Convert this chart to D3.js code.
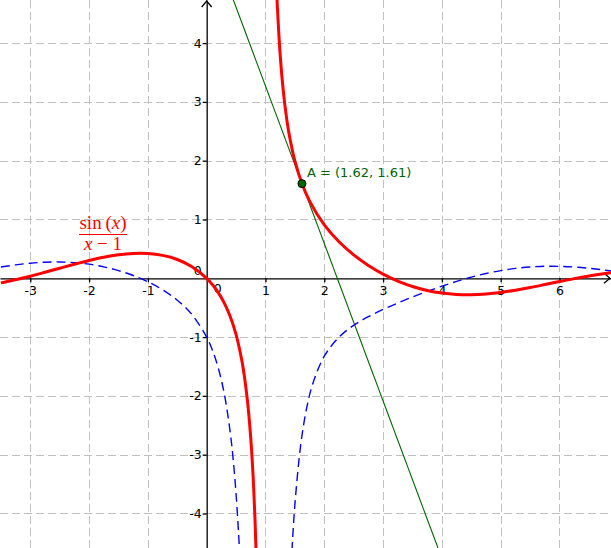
<!DOCTYPE html>
<html>
<head>
<meta charset="utf-8">
<script src="https://cdn.jsdelivr.net/npm/d3@7"></script>
<style>
  html, body { margin: 0; padding: 0; background: #fff; }
  svg { display: block; }
  .tick text { font-family: "DejaVu Sans", sans-serif; font-size: 12.5px; fill: #000; }
</style>
</head>
<body>
<div id="chart"></div>
<script>
  // view window, in graph units
  var xDomain = [-3.515, 6.876];
  var yDomain = [4.733, -4.587];
  var xTicks = [-3, -2, -1, 1, 2, 3, 4, 5, 6];
  var yTicks = [-4, -3, -2, -1, 1, 2, 3, 4];

  // f(x) = sin(x)/(x-1), left branch (x < 1)
  var fLeftX = [-3.5, -3.25, -3, -2.75, -2.5, -2.25, -2, -1.75, -1.5, -1.25, -1, -0.75, -0.5, -0.25, 0,
    0.1, 0.2, 0.3, 0.4, 0.5, 0.6, 0.65, 0.7, 0.72, 0.75, 0.78, 0.8, 0.82, 0.84];
  var fLeftY = [-0.078, -0.025, 0.035, 0.102, 0.171, 0.239, 0.303, 0.358, 0.399, 0.422, 0.421, 0.390, 0.320, 0.198, 0,
    -0.111, -0.248, -0.422, -0.649, -0.959, -1.412, -1.729, -2.147, -2.355, -2.727, -3.197, -3.587, -4.062, -4.654];

  // f(x), right branch (x > 1)
  var fRightX = [1.16, 1.18, 1.2, 1.25, 1.3, 1.35, 1.4, 1.5, 1.62, 1.75, 2, 2.25, 2.5, 2.75, 3, 3.25, 3.5,
    3.75, 4, 4.25, 4.5, 4.75, 5, 5.25, 5.5, 5.75, 6, 6.25, 6.5, 6.75, 7];
  var fRightY = [5.730, 5.137, 4.660, 3.796, 3.212, 2.788, 2.464, 1.995, 1.611, 1.312, 0.909, 0.622, 0.399, 0.218, 0.071, -0.048, -0.140,
    -0.208, -0.252, -0.275, -0.279, -0.266, -0.240, -0.202, -0.157, -0.107, -0.056, -0.006, 0.039, 0.078, 0.110];

  // f'(x), dashed, left branch
  var dLeftX = [-3.5, -3.25, -3, -2.75, -2.5, -2.25, -2, -1.75, -1.5, -1.25, -1, -0.75, -0.5, -0.25, 0,
    0.1, 0.2, 0.3, 0.4, 0.45, 0.5, 0.55, 0.56, 0.58];
  var dLeftY = [0.191, 0.228, 0.256, 0.274, 0.278, 0.267, 0.240, 0.195, 0.131, 0.047, -0.060, -0.196, -0.372, -0.617, -1,
    -1.229, -1.536, -1.968, -2.617, -3.075, -3.673, -4.476, -4.669, -5.098];

  // f'(x), dashed, right branch
  var dRightX = [1.45, 1.46, 1.5, 1.6, 1.7, 1.8, 2, 2.25, 2.5, 2.75, 3, 3.25, 3.5, 3.75, 4, 4.25, 4.5,
    4.75, 5, 5.25, 5.5, 5.75, 6, 6.25, 6.5, 6.75, 7];
  var dRightY = [-4.635, -4.457, -3.849, -2.825, -2.208, -1.806, -1.325, -1.001, -0.800, -0.653, -0.530, -0.420, -0.318, -0.223, -0.134, -0.053, 0.020,
    0.081, 0.131, 0.168, 0.192, 0.204, 0.203, 0.192, 0.170, 0.142, 0.107];

  // tangent at A
  var tangentX = [0.4, 4.0];
  var tangentY = [4.877, -4.764];
  var pointA = [1.62, 1.61];
  var pointLabel = "A = (1.62, 1.61)";

  var W = 611, H = 548;

  var svg = d3.select("#chart").append("svg")
    .attr("width", W)
    .attr("height", H);

  var x = d3.scaleLinear().domain(xDomain).range([0, W]);
  var y = d3.scaleLinear().domain(yDomain).range([0, H]);

  // grid
  var grid = svg.append("g")
    .attr("stroke", "#c0c0c0")
    .attr("stroke-width", 1)
    .attr("stroke-dasharray", "8,4");
  grid.selectAll(".gx").data(xTicks).enter().append("line")
    .attr("x1", function(d) { return Math.round(x(d)) + 0.5; })
    .attr("x2", function(d) { return Math.round(x(d)) + 0.5; })
    .attr("y1", 0).attr("y2", H);
  grid.selectAll(".gy").data(yTicks).enter().append("line")
    .attr("y1", function(d) { return Math.round(y(d)) + 0.5; })
    .attr("y2", function(d) { return Math.round(y(d)) + 0.5; })
    .attr("x1", 0).attr("x2", W);

  // axes
  var xAxis = svg.append("g")
    .attr("transform", "translate(0," + y(0) + ")")
    .call(d3.axisBottom(x).tickValues(xTicks).tickSize(4).tickSizeOuter(0)
      .tickFormat(function(d) { return d < 0 ? "-" + (-d) : d; }));
  var yAxis = svg.append("g")
    .attr("transform", "translate(" + x(0) + ",0)")
    .call(d3.axisLeft(y).tickValues(yTicks).tickSize(4).tickSizeOuter(0)
      .tickFormat(function(d) { return d < 0 ? "-" + (-d) : d; }));
  svg.selectAll(".domain, .tick line").attr("stroke", "#000").attr("stroke-width", 1.3);
  xAxis.selectAll(".tick text").attr("y", 8);
  yAxis.selectAll(".tick text").attr("x", -5);

  // origin labels
  svg.append("text").attr("x", x(0) - 5).attr("y", y(0) - 3)
    .attr("text-anchor", "end")
    .style("font-family", "DejaVu Sans, sans-serif").style("font-size", "12.5px")
    .text("0");
  svg.append("text").attr("x", x(0) + 7).attr("y", y(0) + 15)
    .style("font-family", "DejaVu Sans, sans-serif").style("font-size", "12.5px")
    .text("0");

  // arrow heads
  svg.append("path")
    .attr("d", "M" + (x(0) - 5) + ",7 L" + x(0) + ",1 L" + (x(0) + 5) + ",7")
    .attr("fill", "none").attr("stroke", "#000").attr("stroke-width", 1.3);
  svg.append("path")
    .attr("d", "M" + (W - 7) + "," + (y(0) - 5) + " L" + (W - 1) + "," + y(0) + " L" + (W - 7) + "," + (y(0) + 5))
    .attr("fill", "none").attr("stroke", "#000").attr("stroke-width", 1.3);

  var line = d3.line()
    .x(function(d) { return x(d[0]); })
    .y(function(d) { return y(d[1]); })
    .curve(d3.curveCatmullRom.alpha(0.5));

  function pairs(xs, ys) {
    return xs.map(function(v, i) { return [v, ys[i]]; });
  }

  // tangent line
  svg.append("path")
    .datum(pairs(tangentX, tangentY))
    .attr("d", d3.line().x(function(d) { return x(d[0]); }).y(function(d) { return y(d[1]); }))
    .attr("fill", "none")
    .attr("stroke", "#006400")
    .attr("stroke-width", 1.1);

  // derivative, dashed blue
  [pairs(dLeftX, dLeftY), pairs(dRightX, dRightY)].forEach(function(seg) {
    svg.append("path")
      .datum(seg)
      .attr("d", line)
      .attr("fill", "none")
      .attr("stroke", "#0000ff")
      .attr("stroke-width", 1.4)
      .attr("stroke-dasharray", "9,5");
  });

  // function, red
  [pairs(fLeftX, fLeftY), pairs(fRightX, fRightY)].forEach(function(seg) {
    svg.append("path")
      .datum(seg)
      .attr("d", line)
      .attr("fill", "none")
      .attr("stroke", "#ff0000")
      .attr("stroke-width", 3)
      .attr("stroke-linejoin", "round");
  });

  // point A
  svg.append("circle")
    .attr("cx", x(pointA[0]))
    .attr("cy", y(pointA[1]))
    .attr("r", 4)
    .attr("fill", "#006400")
    .attr("stroke", "#000")
    .attr("stroke-width", 1);
  svg.append("text")
    .attr("x", x(pointA[0]) + 5)
    .attr("y", y(pointA[1]) - 7)
    .attr("fill", "#006400")
    .style("font-family", "DejaVu Sans, sans-serif")
    .style("font-size", "13px")
    .text(pointLabel);

  // formula label
  var lab = svg.append("g")
    .attr("fill", "#ff0000")
    .style("font-family", "Liberation Serif, DejaVu Serif, serif")
    .style("font-size", "19px");
  var numer = lab.append("text").attr("x", 103).attr("y", 229).attr("text-anchor", "middle");
  numer.append("tspan").text("sin\u2009(");
  numer.append("tspan").style("font-style", "italic").text("x");
  numer.append("tspan").text(")");
  lab.append("line")
    .attr("x1", 79).attr("x2", 127)
    .attr("y1", 234.5).attr("y2", 234.5)
    .attr("stroke", "#ff0000").attr("stroke-width", 1);
  var denom = lab.append("text").attr("x", 103).attr("y", 250).attr("text-anchor", "middle");
  denom.append("tspan").style("font-style", "italic").text("x");
  denom.append("tspan").text(" \u2212 1");
</script>
</body>
</html>
